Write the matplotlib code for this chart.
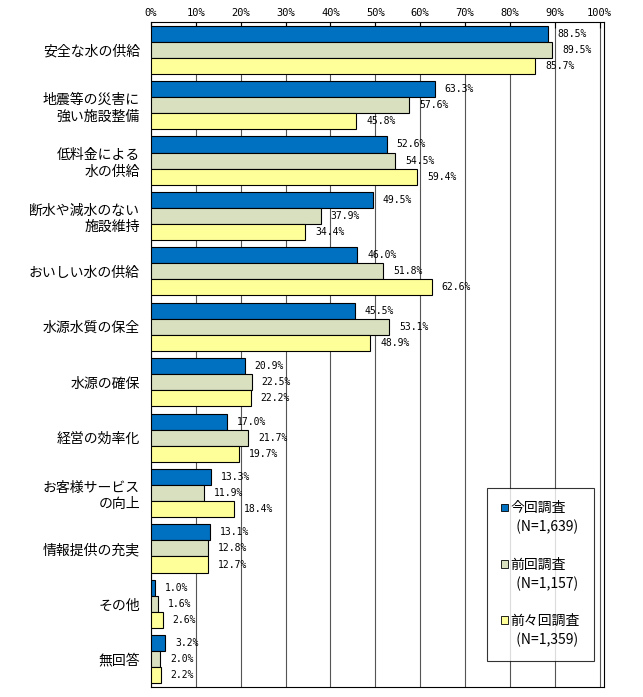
import matplotlib.pyplot as plt
from matplotlib.patches import Patch
import numpy as np

plt.rcParams['font.family'] = ['Noto Sans CJK JP', 'DejaVu Sans']

categories = ['安全な水の供給', '地震等の災害に\n強い施設整備', '低料金による\n水の供給',
              '断水や減水のない\n施設維持', 'おいしい水の供給', '水源水質の保全',
              '水源の確保', '経営の効率化', 'お客様サービス\nの向上', '情報提供の充実',
              'その他', '無回答']
current = [88.5, 63.3, 52.6, 49.5, 46.0, 45.5, 20.9, 17.0, 13.3, 13.1, 1.0, 3.2]
previous = [89.5, 57.6, 54.5, 37.9, 51.8, 53.1, 22.5, 21.7, 11.9, 12.8, 1.6, 2.0]
before_prev = [85.7, 45.8, 59.4, 34.4, 62.6, 48.9, 22.2, 19.7, 18.4, 12.7, 2.6, 2.2]
series_names = ['今回調査', '前回調査', '前々回調査']
series_n = ['(N=1,639)', '(N=1,157)', '(N=1,359)']
colors = ['#0070C0', '#D8E0BF', '#FFFF99']
ticks = list(range(0, 101, 10))

fig = plt.figure(figsize=(6.43, 6.97), dpi=100)
ax = fig.add_axes([151 / 643, 10 / 697, 453 / 643, 665 / 697])

n = len(categories)
y = np.arange(n)
h = 0.29
offsets = [-h, 0, h]
for vals, off, col in zip([current, previous, before_prev], offsets, colors):
    ax.barh(y + off, vals, height=h, color=col, edgecolor='black', linewidth=0.8, zorder=3)
    for v, yy in zip(vals, y + off):
        ax.text(v + 2.2, yy, f'{v:.1f}%', va='center', ha='left', fontsize=7,
                family='DejaVu Sans Mono', zorder=4)

ax.set_ylim(n - 0.5, -0.5)
ax.set_xlim(0, 101)
ax.set_yticks(y)
ax.set_yticklabels(categories, fontsize=10, linespacing=1.25)
ax.tick_params(axis='y', length=0, pad=8)
ax.xaxis.tick_top()
ax.set_xticks(ticks)
ax.set_xticklabels([f'{t}%' for t in ticks], fontsize=7.5, family='DejaVu Sans Mono')
ax.tick_params(axis='x', length=4, direction='in', pad=3)
ax.grid(axis='x', color='#555555', linewidth=0.8, zorder=0)
for s in ax.spines.values():
    s.set_linewidth(0.8)

# legend: name line with a colour square, then the N line, then a blank line
handles, labels = [], []
blank = Patch(facecolor='none', edgecolor='none')
for i, (name, nn, col) in enumerate(zip(series_names, series_n, colors)):
    handles += [Patch(facecolor=col, edgecolor='black', linewidth=0.6), blank]
    labels += [name, '  ' + nn]
    if i < len(series_names) - 1:
        handles.append(blank)
        labels.append(' ')

leg = ax.legend(handles, labels, loc='lower right', bbox_to_anchor=(0.977, 0.039),
                fontsize=10, frameon=True, fancybox=False, edgecolor='black',
                handlelength=0.5, handleheight=0.5, handletextpad=0.2,
                labelspacing=0.33, borderpad=1.0, borderaxespad=0)
leg.get_frame().set_linewidth(0.8)
leg.set_zorder(5)

fig.savefig('out.png', dpi=100)
